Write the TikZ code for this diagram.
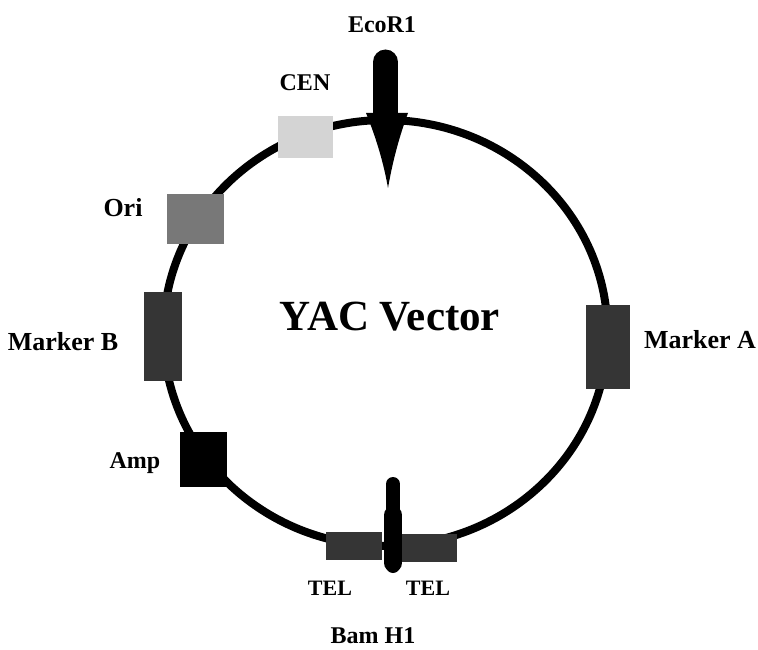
\documentclass[tikz,border=0pt]{standalone}
\usepackage{fontspec}
\setmainfont{Liberation Serif}
\usepackage{xcolor}
\usetikzlibrary{positioning}

\definecolor{cenGray}{HTML}{D4D4D4}
\definecolor{oriGray}{HTML}{787878}
\definecolor{markGray}{HTML}{353535}

\begin{document}
\begin{tikzpicture}[
        x=1pt, y=-1pt,
        gene/.style={inner sep=0pt, outer sep=0pt},
        lbl/.style={font=\fontsize{24}{28}\selectfont\bfseries, inner sep=1pt},
        biglbl/.style={lbl, font=\fontsize{26}{30}\selectfont\bfseries},
        site/.style={line cap=round},
    ]
    \useasboundingbox (0,0) rectangle (758,650);

    % Vector backbone
    \draw[line width=8pt] (385.5,333) ellipse [x radius=222, y radius=213];

    % Genetic elements on the ring
    \node[gene, fill=cenGray, minimum width=55pt, minimum height=42pt] (cen) at (305.5,137) {};
    \node[gene, fill=oriGray, minimum width=57pt, minimum height=50pt] (ori) at (195.5,219) {};
    \node[gene, fill=markGray, minimum width=38pt, minimum height=89pt] (markB) at (163,336.5) {};
    \node[gene, fill=black, minimum width=47pt, minimum height=55pt] (amp) at (203.5,459.5) {};
    \node[gene, fill=markGray, minimum width=44pt, minimum height=84pt] (markA) at (608,347) {};
    \node[gene, fill=markGray, minimum width=56pt, minimum height=28pt] (telL) at (354,546) {};
    \node[gene, fill=markGray, minimum width=55pt, minimum height=28pt] (telR) at (429.5,548) {};

    % EcoR1 cutting site
    \coordinate (ecoTop) at (385.5,62);
    \coordinate (ecoBase) at (385.5,116);
    \draw[site, line width=25pt] (ecoTop) -- (ecoBase);
    \fill (366,113) -- (408,113) .. controls (398,140) and (392,165) .. (388,188)
        .. controls (384,165) and (377,140) .. cycle;

    % Bam H1 cutting site
    \coordinate (bamTop) at (393,484);
    \coordinate (bamBot) at (393,566);
    \draw[site, line width=14pt] (bamTop) -- (bamBot);
    \draw[site, line width=18pt] (393,515) -- (393,563);

    % Labels
    \node[lbl] (ecoLbl) at (382,25) {EcoR1};
    \node[lbl] (cenLbl) at (305,83) {CEN};
    \node[biglbl] (oriLbl) at (123,208) {Ori};
    \node[biglbl] (markBLbl) at (63,342) {Marker B};
    \node[lbl] (ampLbl) at (135,463) {Amp};
    \node[biglbl] (markALbl) at (700,340) {Marker A};
    \node[lbl, font=\fontsize{22}{26}\selectfont\bfseries] (telLLbl) at (330,588) {TEL};
    \node[lbl, font=\fontsize{22}{26}\selectfont\bfseries] (telRLbl) at (428,588) {TEL};
    \node[lbl] (bamLbl) at (373,636) {Bam H1};
    \node[lbl, font=\fontsize{43}{48}\selectfont\bfseries] (title) at (390,317) {YAC Vector};

\end{tikzpicture}
\end{document}
